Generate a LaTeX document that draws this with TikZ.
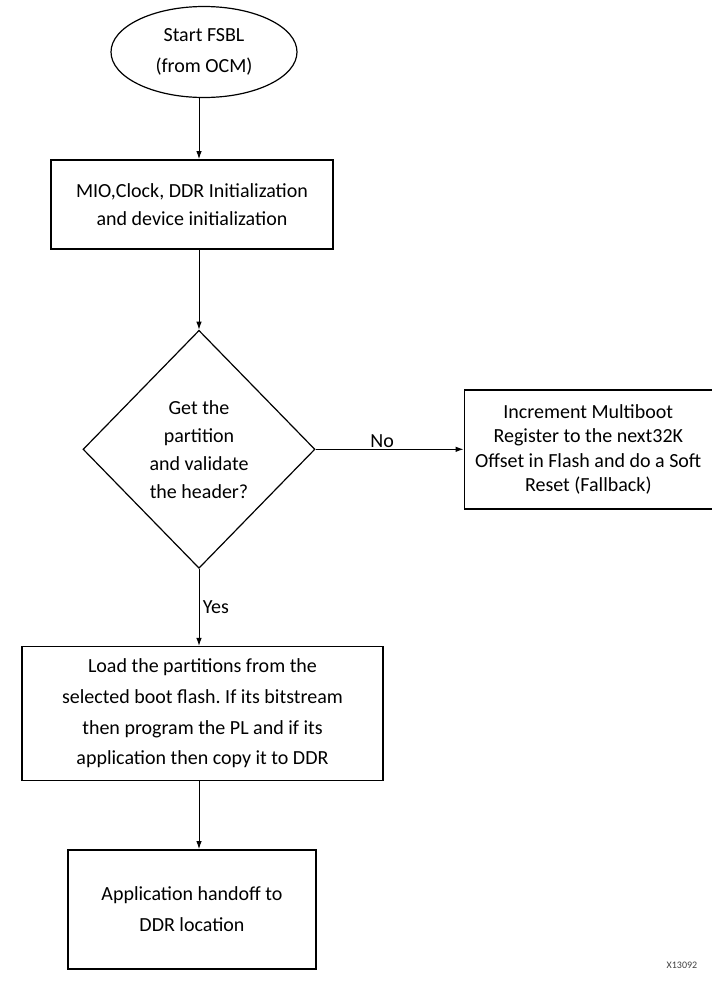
\documentclass[tikz,border=0pt]{standalone}
\usepackage{fontspec}
\setmainfont{Carlito}
\usepackage{tikz}
\usetikzlibrary{arrows.meta,shapes,positioning}
\frenchspacing

\begin{document}
\begin{tikzpicture}
    [
    x=1pt, y=1pt,
    base/.style = {align=center, inner sep=0pt, font=\fontsize{20}{28}\selectfont},
    box/.style = {base, draw, rectangle, line width=1.6pt},
    term/.style = {base, draw, ellipse, line width=1.2pt},
    decision/.style = {base, draw, diamond, line width=1.2pt},
    arrow/.style = {-{Latex[length=8pt,width=5.5pt]}, line width=1pt},
    lbl/.style = {font=\fontsize{20}{24}\selectfont}
    ]
    \useasboundingbox (0,0) rectangle (712,-989);

% Nodes
    \node[term, minimum width=186pt, minimum height=91pt, font=\fontsize{20}{31}\selectfont] (start) at (204,-52) {Start FSBL\\(from OCM)};
    \node[box, minimum width=282pt, minimum height=89pt, below=61pt of start, xshift=-12pt] (init) {MIO,Clock, DDR Initialization\\and device initialization};
    \node[decision, minimum width=232pt, minimum height=238pt, below=80pt of init, xshift=7pt] (check) {Get the\\partition\\and validate\\the header?};
    \node[box, minimum width=248pt, minimum height=119pt, right=148pt of check, line width=1.4pt, font=\fontsize{20}{24.5}\selectfont] (fallback) {Increment Multiboot\\Register to the next32K\\Offset in Flash and do a Soft\\Reset (Fallback)};
    \node[box, minimum width=361pt, minimum height=134pt, below=77pt of check, xshift=3.5pt, line width=1.2pt, font=\fontsize{20}{30.7}\selectfont] (load) {Load the partitions from the\\selected boot flash. If its bitstream\\then program the PL and if its\\application then copy it to DDR};
    \node[box, minimum width=248pt, minimum height=119pt, below=68pt of load, xshift=-10.5pt, font=\fontsize{20}{31}\selectfont] (handoff) {Application handoff to\\DDR location};
    \node[font=\fontsize{10}{12}\selectfont, text=black!75] (tag) at (682,-965) {X13092};

% Arrows
    \draw[arrow] (start.south -| check) -- (init.north -| check);
    \draw[arrow] (init.south -| check) -- (check.north);
    \draw[arrow] (check.east) -- node[lbl, above, pos=0.45, inner sep=1.5pt] {No} (fallback.west);
    \draw[arrow] (check.south) -- node[lbl, right] {Yes} (load.north -| check);
    \draw[arrow] (load.south -| check) -- (handoff.north -| check);

\end{tikzpicture}
\end{document}
